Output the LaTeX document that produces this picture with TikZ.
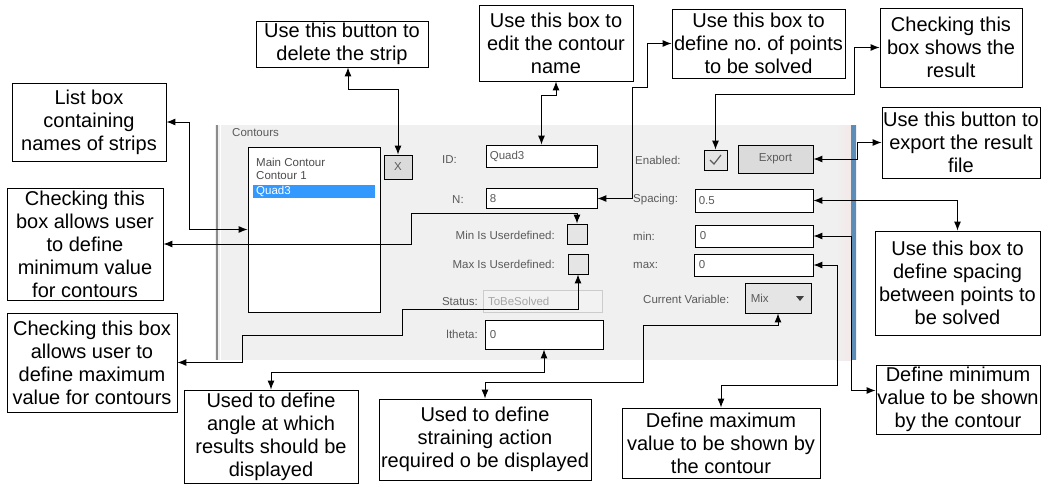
\documentclass[tikz,border=0pt]{standalone}
\usepackage{fontspec}
\setmainfont{Liberation Sans}
\usetikzlibrary{arrows.meta}
\frenchspacing
\definecolor{panel}{HTML}{F0F0F0}
\definecolor{guitext}{HTML}{5A5A5A}
\definecolor{selblue}{HTML}{3399FF}
\definecolor{edgeblue}{HTML}{5B8DB8}
\definecolor{edgepink}{HTML}{F4E8E8}
\begin{document}
\begin{tikzpicture}[x=1pt,y=-1pt,
  note/.style={draw,fill=white,line width=0.8pt,align=center,inner sep=0pt,font=\fontsize{20}{23}\selectfont},
  field/.style={draw,fill=white,line width=0.8pt,inner sep=0pt},
  chkbox/.style={draw,fill=black!10,line width=0.8pt,inner sep=0pt,minimum size=20},
  lbl/.style={text=guitext,inner sep=0pt,font=\fontsize{11.5}{13}\selectfont},
  btn/.style={draw,fill=black!14,line width=0.8pt,inner sep=0pt,text=guitext,font=\fontsize{11.5}{13}\selectfont},
  link/.style={{Latex[length=9pt,width=7pt]}-{Latex[length=9pt,width=7pt]},line width=1pt}]
\useasboundingbox (0,0) rectangle (1042,485);
\fill[panel] (215,125) rectangle (857,360);
\shade[left color=panel,right color=edgepink] (836,125) rectangle (851,360);
\fill[edgeblue] (851,125) rectangle (856,360);
\draw[black!45,line width=1.2pt] (217,125) -- (217,360);
\draw[white,line width=1pt] (220,125) -- (220,360);
\node[lbl,anchor=west] (cont) at (232,133) {Contours};
\node[field,minimum width=132,minimum height=165] (lst) at (314,229.5) {};
\fill[selblue] (253,185) rectangle (375,198);
\node[lbl,anchor=west,text=black!70] (it1) at (256,162) {Main Contour};
\node[lbl,anchor=west,text=black!70] (it2) at (256,176) {Contour 1};
\node[lbl,anchor=west,text=white] (it3) at (256,191) {Quad3};
\node[btn,minimum width=28,minimum height=24] (btnx) at (398,167) {X};
\node[lbl,anchor=west] (idl) at (442,160) {ID:};
\node[field,minimum width=111,minimum height=22] (idbox) at (541.5,156) {};
\node[lbl,anchor=west] (idt) at ([xshift=4]idbox.west) {Quad3};
\node[lbl,anchor=west] (nl) at (452,200) {N:};
\node[field,minimum width=111,minimum height=20] (nbox) at (541.5,198.5) {};
\node[lbl,anchor=west] (nt) at ([xshift=4]nbox.west) {8};
\node[lbl,anchor=east] (minl) at (555,235) {Min Is Userdefined:};
\node[chkbox] (minchk) at (577,234) {};
\node[lbl,anchor=east] (maxl) at (555,264) {Max Is Userdefined:};
\node[chkbox] (maxchk) at (578,264) {};
\node[lbl,anchor=east] (statl) at (478,302) {Status:};
\node[draw=black!20,fill=black!5,minimum width=119,minimum height=22,inner sep=0pt] (stat) at (542.5,301) {};
\node[lbl,anchor=west,text=black!35] (statt) at ([xshift=5]stat.west) {ToBeSolved};
\node[lbl,anchor=east] (thl) at (478,334) {ltheta:};
\node[field,minimum width=118,minimum height=29] (theta) at (544,334.5) {};
\node[lbl,anchor=west] (tht) at ([xshift=5]theta.west) {0};
\node[lbl,anchor=west] (enl) at (635,160) {Enabled:};
\node[chkbox,minimum width=23] (enchk) at (715.5,160) {};
\draw[guitext,line width=1.2pt] (710,160) -- (714,164) -- (721,155);
\node[btn,minimum width=75,minimum height=28] (export) at (775.5,159) {Export};
\node[lbl,anchor=west] (spl) at (633,200) {Spacing:};
\node[field,minimum width=118,minimum height=23] (spc) at (754,200.5) {};
\node[lbl,anchor=west] (spt) at ([xshift=4]spc.west) {0.5};
\node[lbl,anchor=west] (mnl) at (633,236) {min:};
\node[field,minimum width=118,minimum height=22] (minbox) at (754,236) {};
\node[lbl,anchor=west] (mnt) at ([xshift=5]minbox.west) {0};
\node[lbl,anchor=west] (mxl) at (633,265) {max:};
\node[field,minimum width=119,minimum height=22] (maxbox) at (753.5,265) {};
\node[lbl,anchor=west] (mxt) at ([xshift=5]maxbox.west) {0};
\node[lbl,anchor=west] (cvl) at (643,299) {Current Variable:};
\node[btn,fill=black!10,minimum width=66,minimum height=30] (cvar) at (778,298) {};
\node[lbl,anchor=west] (cvt) at ([xshift=6]cvar.west) {Mix};
\fill[black!75] (796,296) -- (804,296) -- (800,301) -- cycle;
\node[note,minimum width=172,minimum height=46] (del) at (342,44) {Use this button to\\delete the strip};
\node[note,minimum width=154,minimum height=76] (cname) at (556,43) {Use this box to\\edit the contour\\name};
\node[note,minimum width=173,minimum height=69] (npts) at (758.5,43.5) {Use this box to\\define no. of points\\to be solved};
\node[note,minimum width=142,minimum height=79] (shows) at (951,47.5) {Checking this\\box shows the\\result};
\node[note,minimum width=158,minimum height=71] (expnote) at (961,142.5) {Use this button to\\export the result\\file};
\node[note,minimum width=165,minimum height=104] (spcnote) at (957.5,283) {Use this box to\\define spacing\\between points to\\be solved};
\node[note,minimum width=164,minimum height=69] (minnote) at (958,399.5) {Define minimum\\value to be shown\\by the contour};
\node[note,minimum width=198,minimum height=70] (maxnote) at (721,443) {Define maximum\\value to be shown by\\the contour};
\node[note,minimum width=212,minimum height=81] (strnote) at (485,439.5) {Used to define\\straining action\\required o be displayed};
\node[note,minimum width=174,minimum height=93] (angnote) at (271,436.5) {Used to define\\angle at which\\results should be\\displayed};
\node[note,minimum width=170,minimum height=99] (maxudnote) at (92,362.5) {Checking this box\\allows user to\\define maximum\\value for contours};
\node[note,minimum width=156,minimum height=112] (minudnote) at (85,244) {Checking this\\box allows user\\to define\\minimum value\\for contours};
\node[note,minimum width=154,minimum height=78] (listnote) at (89,122) {List box\\containing\\names of strips};
\draw[link] ([xshift=6]del.south) -- ++(0,22) -| (btnx.north);
\draw[link] (cname.south) -- ++(0,14) -| (idbox.north);
\draw[link] (npts.west) -- ++(-24,0) -- ++(0,44) -| ([xshift=35]nbox.east) -- (nbox.east);
\draw[link] (shows.west) -- ++(-25,0) -- ++(0,47) -| (enchk.north);
\draw[link] (expnote.west) -- ++(-24,0) |- (export.east);
\draw[link] (spc.east) -| (spcnote.north);
\draw[link] (minbox.east) -- ++(38,0) |- ([yshift=9]minnote.west);
\draw[link] (maxbox.east) -- ++(24,0) -- ++(0,120) -| (maxnote.north);
\draw[link] (cvar.south) -- ++(0,12) -- ++(-135,0) -- ++(0,57) -| (strnote.north);
\draw[link] (theta.south) -- ++(0,23) -| (angnote.north);
\draw[link] (maxchk.south) -- ++(0,35) -- ++(-176,0) -- ++(0,26) -| ([xshift=65]maxudnote.east) -- (maxudnote.east);
\draw[link] (minchk.north) -- ++(0,-10) -| ([xshift=248]minudnote.east) -- (minudnote.east);
\draw[link] (listnote.east) -- ++(23,0) |- (lst.west);
\end{tikzpicture}
\end{document}
